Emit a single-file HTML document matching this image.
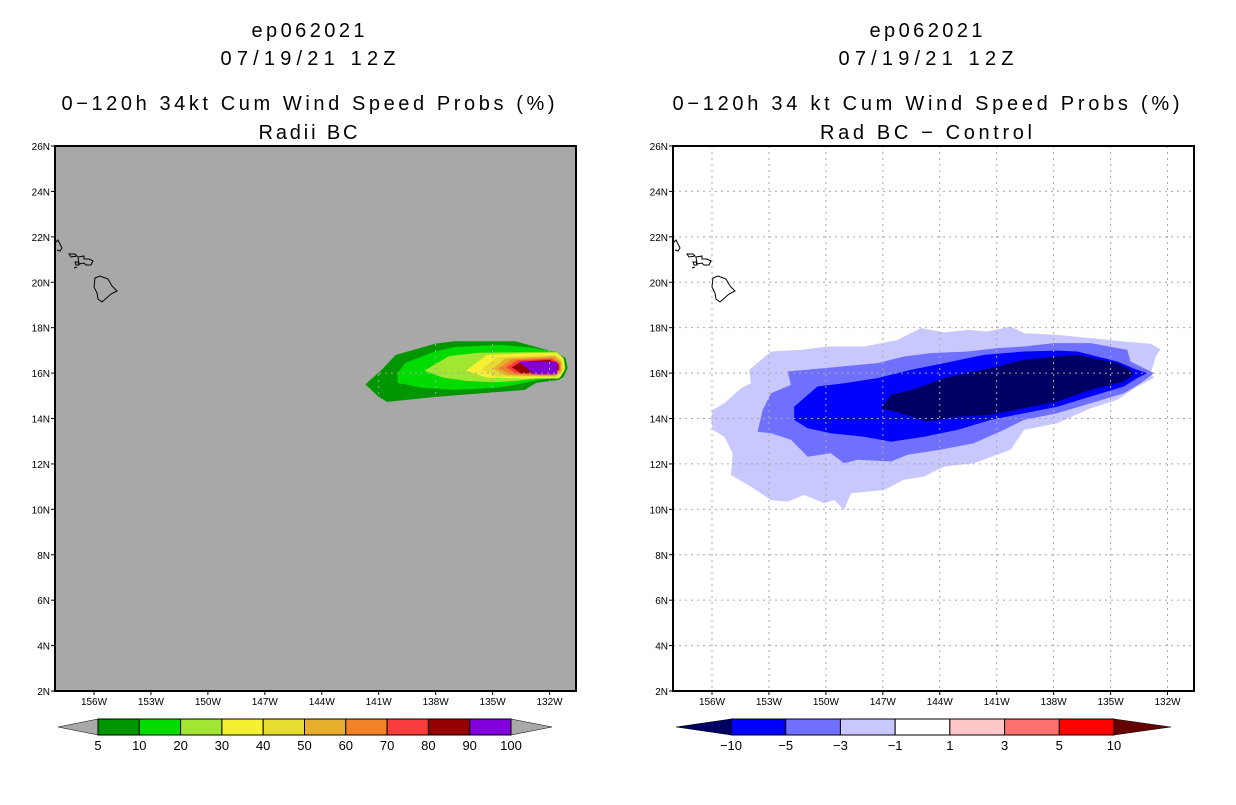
<!DOCTYPE html>
<html><head><meta charset="utf-8"><style>
body{margin:0;background:#fff;}
svg text{font-family:"Liberation Sans",sans-serif;}
</style></head><body>
<svg id="s" width="1236" height="800" xmlns="http://www.w3.org/2000/svg"></svg>
<script>
const lonTicks=[156,153,150,147,144,141,138,135,132];
const latTicks=[2,4,6,8,10,12,14,16,18,20,22,24,26];
const probLevels=[5,10,20,30,40,50,60,70,80,90,100];
const probColors=['#009600','#00dc00','#a0e632','#f5f032','#e6dc32','#e6af2d','#f08228','#fa3c3c','#960000','#8200dc'];
const diffLevels=['-10','-5','-3','-1','1','3','5','10'];
const diffColors=['#0000ff','#7070ff','#c8c8ff','#ffffff','#ffc8c8','#ff7070','#ff0000'];
// probability contour polygons [lonW, latN]
const prob5=[[141.7,15.5],[140.9,16.1],[140.1,16.8],[138.0,17.3],[137.0,17.4],[133.8,17.4],[132.7,17.15],[131.6,16.9],[131.16,16.67],[131.05,16.22],[131.26,15.83],[131.5,15.7],[132.7,15.57],[133.3,15.26],[135.2,15.13],[138.0,14.95],[140.55,14.73],[141.0,14.95]];
const prob10=[[140.0,16.0],[139.6,16.45],[138.1,16.93],[137.0,17.15],[134.5,17.24],[132.9,17.11],[131.6,16.93],[131.26,16.67],[131.16,16.22],[131.42,15.83],[132.6,15.7],[133.8,15.48],[134.85,15.35],[137.0,15.26],[138.7,15.35],[140.0,15.57]];
const prob20=[[138.6,16.1],[137.3,16.75],[135.8,16.9],[133.0,16.92],[131.6,16.93],[131.26,16.67],[131.16,16.22],[131.42,15.83],[132.6,15.77],[133.8,15.65],[135.0,15.6],[136.3,15.65],[137.6,15.8]];
const prob30=[[136.4,16.1],[135.3,16.8],[133.0,16.88],[131.6,16.88],[131.25,16.6],[131.22,16.1],[131.5,15.76],[133.0,15.76],[135.3,15.8]];
const prob40=[[135.6,16.15],[134.8,16.7],[131.65,16.8],[131.32,16.55],[131.3,16.1],[131.6,15.82],[134.8,15.85]];
const prob50=[[135.0,16.2],[134.3,16.65],[131.7,16.74],[131.38,16.5],[131.36,16.1],[131.7,15.86],[134.3,15.9]];
const prob60=[[134.7,16.2],[134.0,16.6],[131.8,16.69],[131.42,16.45],[131.42,16.1],[131.8,15.9],[134.0,15.95]];
const prob70=[[134.3,16.25],[133.7,16.56],[131.9,16.64],[131.47,16.4],[131.47,16.15],[131.9,15.93],[133.7,15.96]];
const prob80=[[134.0,16.25],[133.5,16.5],[132.0,16.58],[131.52,16.38],[131.52,16.15],[132.0,15.97],[133.5,16.0]];
const prob90=[[133.6,16.5],[131.6,16.5],[131.6,15.95],[132.8,15.95]];
const probPolys=[prob5,prob10,prob20,prob30,prob40,prob50,prob60,prob70,prob80,prob90];
// difference contour polygons
const diffM1=[[156.05,13.94],[155.96,14.38],[155.35,14.67],[154.47,15.33],[153.95,15.55],[154.04,16.14],[152.89,16.95],[151.32,17.02],[149.91,17.17],[147.98,17.17],[146.23,17.46],[145.0,17.98],[143.77,17.79],[142.54,17.9],[141.49,17.83],[140.26,18.05],[139.56,17.76],[137.81,17.68],[136.05,17.54],[134.3,17.39],[132.89,17.29],[132.37,17.05],[132.63,16.73],[132.72,16.44],[132.89,16.0],[132.72,15.78],[133.6,15.41],[134.65,14.82],[136.05,14.45],[137.81,13.79],[139.56,13.5],[140.26,12.62],[142.2,12.03],[143.77,11.88],[144.83,11.44],[145.88,11.3],[146.93,10.85],[148.68,10.71],[149.04,9.97],[149.56,10.41],[150.09,10.27],[151.14,10.63],[152.02,10.34],[152.89,10.41],[153.95,11.0],[155.0,11.51],[154.91,12.47],[155.35,13.2],[155.96,13.5]];
const diffM3=[[152.02,16.07],[150.09,16.22],[147.28,16.44],[145.88,16.73],[144.47,16.88],[142.54,16.95],[140.96,17.1],[139.56,17.17],[137.98,17.32],[136.05,17.32],[134.12,17.02],[133.95,16.51],[132.72,16.0],[133.42,15.55],[134.3,15.11],[136.05,14.67],[137.81,14.23],[139.56,13.94],[140.62,13.5],[142.2,12.91],[143.98,12.62],[145.7,12.4],[146.58,12.1],[148.33,12.18],[149.04,12.03],[149.74,12.47],[150.96,12.32],[151.84,13.06],[152.89,13.35],[153.6,13.42],[153.33,14.38],[152.89,15.11],[151.84,15.48]];
const diffM5=[[151.67,14.52],[150.44,15.41],[149.04,15.55],[147.28,15.78],[145.53,16.14],[143.77,16.44],[141.67,16.8],[139.56,16.95],[137.81,16.99],[136.75,16.95],[134.65,16.51],[133.6,16.14],[133.07,16.0],[133.6,15.78],[134.3,15.41],[136.05,14.97],[137.81,14.52],[139.56,14.23],[141.32,13.94],[143.07,13.5],[144.83,13.2],[146.58,12.98],[147.98,13.2],[149.74,13.35],[150.96,13.57],[151.67,13.94]];
const diffM10=[[147.11,14.45],[146.58,15.04],[145.18,15.33],[143.77,15.78],[141.32,16.22],[139.56,16.59],[137.81,16.73],[136.75,16.8],[134.65,16.44],[133.95,16.14],[133.77,15.93],[134.3,15.63],[136.05,15.26],[137.81,14.74],[139.56,14.45],[141.32,14.16],[143.07,14.08],[144.65,13.86],[146.05,14.23]];
const diffPolys=[diffM1,diffM3,diffM5,diffM10];
const diffPolyColors=['#c8c8ff','#7070ff','#0000ff','#000064'];

const NS='http://www.w3.org/2000/svg';
const svg=document.getElementById('s');
function mk(tag,attrs,parent){const e=document.createElementNS(NS,tag);for(const k in attrs)e.setAttribute(k,attrs[k]);(parent||svg).appendChild(e);return e;}
function panel(ox){
  const x0=ox,x1=ox+521,y0=146,y1=691;
  const xs=lon=>ox+39+(156-lon)*18.98;
  const ys=lat=>691-(lat-2)*22.708;
  return {x0,x1,y0,y1,xs,ys};
}
function txt(x,y,s,size,anchor,name,tl){
  const a={x:x,y:y,'font-size':size,'text-anchor':anchor||'middle',fill:'#000'};
  if(tl){a.textLength=tl;a.lengthAdjust='spacing';}
  const t=mk('text',a);
  t.textContent=s;
  
  
  return t;
}
function polyPts(p,P){return p.map(q=>P.xs(q[0]).toFixed(1)+','+P.ys(q[1]).toFixed(1)).join(' ');}
function hawaii(P,g){
  const d=['M'+(P.x0)+',243 l3,-3 l4,8 l-2,3 l-3,-1','M'+(P.x0+14)+',254 l6,0 l2,2 l-6,1 z M'+(P.x0+23)+',257 l6,-1 l0,3 l5,0 l4,2 l-2,4 l-5,0 l-2,-2 l-5,1 z M'+(P.x0+20)+',262 l3,0 l1,3 l-3,0 z M'+(P.x0+19)+',268 l3,-1',
  'M'+(P.x0+40)+',278 l5,-2 l8,3 l4,7 l5,5 l-6,3 l-9,8 l-4,-3 l-1,-6 l-3,-6 z'];
  d.forEach(s=>{const p=mk('path',{d:s,fill:'none',stroke:'#000','stroke-width':1},g);
    });
}
function frame(P,bg,polys,colors,gridColor,pname){
  const g=mk('g',{});
  
  
  const cp=mk('clipPath',{id:'c'+pname},g);
  mk('rect',{x:P.x0,y:P.y0,width:P.x1-P.x0,height:P.y1-P.y0},cp);
  const bgR=mk('rect',{x:P.x0,y:P.y0,width:P.x1-P.x0,height:P.y1-P.y0,fill:bg},g);
  
  
  const inner=mk('g',{'clip-path':'url(#c'+pname+')'},g);
  polys.forEach((p,i)=>{
    const e=mk('polygon',{points:polyPts(p,P),fill:colors[i]},inner);
    
    
  });
  lonTicks.forEach(l=>{const e=mk('line',{x1:P.xs(l),x2:P.xs(l),y1:P.y0,y2:P.y1,stroke:gridColor,'stroke-width':1,'stroke-dasharray':'2,4'},inner);
    });
  latTicks.forEach(l=>{const e=mk('line',{x1:P.x0,x2:P.x1,y1:P.ys(l),y2:P.ys(l),stroke:gridColor,'stroke-width':1,'stroke-dasharray':'2,4'},inner);
    });
  hawaii(P,inner);
  const b=mk('rect',{x:P.x0,y:P.y0,width:P.x1-P.x0,height:P.y1-P.y0,fill:'none',stroke:'#000','stroke-width':2},g);
  
  latTicks.forEach(l=>{mk('line',{x1:P.x0-4,x2:P.x0,y1:P.ys(l),y2:P.ys(l),stroke:'#000'},g);
    txt(P.x0-5,P.ys(l)+4,l+'N',10,'end','y-tick-label');});
  lonTicks.forEach(l=>{mk('line',{x1:P.xs(l),x2:P.xs(l),y1:P.y1,y2:P.y1+4,stroke:'#000'},g);
    txt(P.xs(l),P.y1+14,l+'W',10,'middle','x-tick-label');});
}
function colorbar(xa,xb,xc,xd,cols,labels,lc,rc,name){
  const g=mk('g',{});
  
  
  const y0=719,y1=735,ym=727,w=(xc-xb)/cols.length;
  const l=mk('polygon',{points:`${xa},${ym} ${xb},${y0} ${xb},${y1}`,fill:lc,stroke:'#000','stroke-width':0.5},g);
  
  const r=mk('polygon',{points:`${xd},${ym} ${xc},${y0} ${xc},${y1}`,fill:rc,stroke:'#000','stroke-width':0.5},g);
  
  cols.forEach((c,i)=>{const e=mk('rect',{x:xb+i*w,y:y0,width:w,height:y1-y0,fill:c,stroke:'#000','stroke-width':1},g);
    });
  labels.forEach((s,i)=>txt(xb+i*w,750,String(s).replace('-','\u2212'),13,'middle','colorbar-label'));
}
const L=panel(55),R=panel(673);
frame(L,'#a8a8a8',probPolys,probColors,'#a8a8a8','left-panel');
frame(R,'#ffffff',diffPolys,diffPolyColors,'#a8a8a8','right-panel');
// titles
[[308,'left'],[926,'right']].forEach(([cx,s])=>{
  txt(cx,37,'ep062021',20,'middle','title-storm',113);
  txt(cx,65,'07/19/21 12Z',20,'middle','title-date',175);
});
txt(308,110,'0\u2212120h 34kt Cum Wind Speed Probs (%)',20,'middle','left-title',493);
txt(308,139,'Radii BC',20,'middle','left-subtitle',99);
txt(926,110,'0\u2212120h 34 kt Cum Wind Speed Probs (%)',20,'middle','right-title',507);
txt(926,139,'Rad BC \u2212 Control',20,'middle','right-subtitle',212);
colorbar(58,98,511,552,probColors,probLevels,'#a8a8a8','#a8a8a8','prob-colorbar');
colorbar(676,731,1114,1171,diffColors,diffLevels,'#000064','#640000','diff-colorbar');
</script>
</body></html>
